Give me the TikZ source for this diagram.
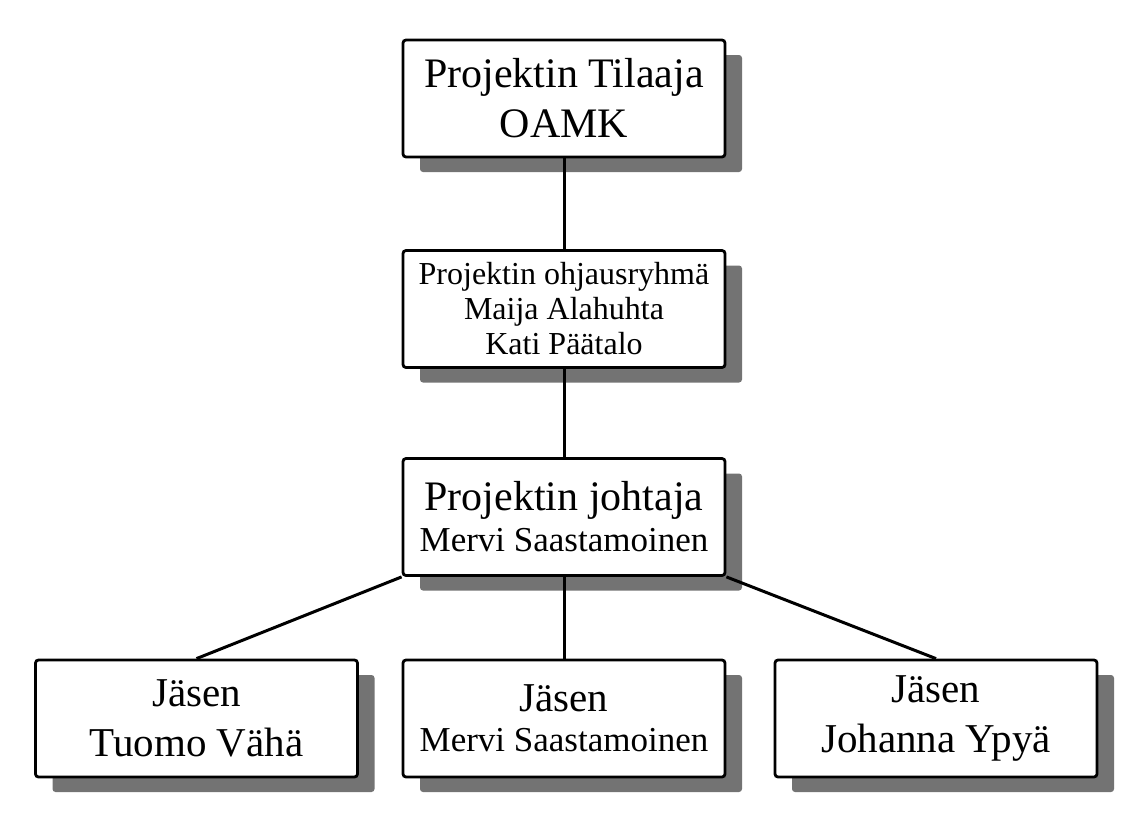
\documentclass[tikz,border=0pt]{standalone}
\usepackage{fontspec}
\setmainfont{Liberation Serif}
\usetikzlibrary{shadows}

\begin{document}
\begin{tikzpicture}[x=0.5pt,y=-0.5pt]
\tikzstyle{box}=[draw,line width=1.4pt,rounded corners=1.5pt,fill=white,
  minimum width=161pt,minimum height=58.5pt,align=center,inner sep=0pt,
  drop shadow={shadow xshift=8.5pt,shadow yshift=-7.5pt,fill=black!55,opacity=1}]
\tikzstyle{link}=[line width=1.5pt]
\useasboundingbox (0,0) rectangle (1135,814);
\node (T) [box,font=\fontsize{21}{25}\selectfont] at (564,98.5) {Projektin Tilaaja\\OAMK};
\node (O) [box,font=\fontsize{16}{17.5}\selectfont] at (564,309) {Projektin ohjausryhmä\\Maija Alahuhta\\Kati Päätalo};
\node (J) [box,font=\fontsize{21}{25}\selectfont] at (564,517) {Projektin johtaja\\[-4.5pt]{\fontsize{17.5}{20}\selectfont Mervi Saastamoinen}};
\node (A) [box,font=\fontsize{20.5}{25}\selectfont] at (196.5,718.5) {Jäsen\\Tuomo Vähä};
\node (B) [box,font=\fontsize{20.5}{25}\selectfont] at (564,718.5) {Jäsen\\[-5pt]{\fontsize{17.5}{20}\selectfont Mervi Saastamoinen}};
\node (C) [box,font=\fontsize{20.5}{25}\selectfont] at (936,718.5) {Jäsen\\Johanna Ypyä};
\draw[link] (T.south) -- (O.north);
\draw[link] (O.south) -- (J.north);
\draw[link] (J.south west) -- (A.north);
\draw[link] (J.south) -- (B.north);
\draw[link] (J.south east) -- (C.north);
\end{tikzpicture}
\end{document}
